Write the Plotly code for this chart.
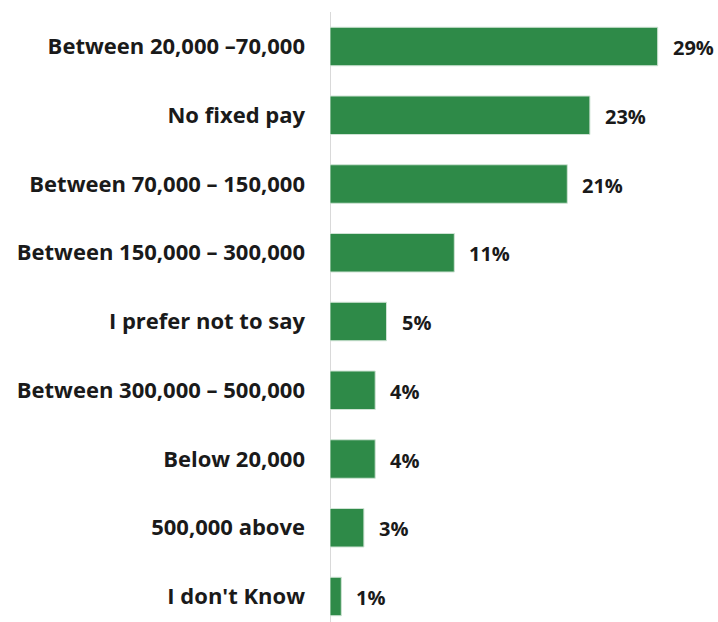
import plotly.graph_objects as go

# Monthly income brackets and share of respondents (%)
categories = [
    "Between 20,000 –70,000",
    "No fixed pay",
    "Between 70,000 – 150,000",
    "Between 150,000 – 300,000",
    "I prefer not to say",
    "Between 300,000 – 500,000",
    "Below 20,000",
    "500,000 above",
    "I don't Know",
]
shares = [29, 23, 21, 11, 5, 4, 4, 3, 1]

BAR_GREEN = "#2e8a48"
TEXT = "#1a1a1a"
FONT = "Open Sans"

fig = go.Figure(
    go.Bar(
        x=shares,
        y=categories,
        orientation="h",
        width=0.56,
        marker=dict(color=BAR_GREEN, line=dict(color="#cfe3d4", width=1)),
        hoverinfo="skip",
    )
)

# Percentage labels just past the end of each bar
for cat, val in zip(categories, shares):
    fig.add_annotation(
        x=val, y=cat, text=f"<b>{val}%</b>", showarrow=False,
        xanchor="left", xshift=13, yshift=-1,
        font=dict(family=FONT, size=20, color=TEXT),
    )

fig.update_layout(
    width=718, height=622,
    margin=dict(l=330, r=0, t=12, b=0),
    paper_bgcolor="white", plot_bgcolor="white",
    showlegend=False,
    font=dict(family=FONT, color=TEXT),
)
fig.update_xaxes(
    range=[0, 388 / 11.3], visible=False,
)
fig.update_yaxes(
    type="category",
    range=[8.371, -0.502],
    showgrid=False, zeroline=False,
    showline=False,
    ticks="", ticklabelstandoff=24,
    tickfont=dict(family=FONT, size=22, color=TEXT, weight="bold"),
)
# Light grey baseline at zero
fig.add_shape(
    type="line", xref="x", yref="paper", x0=0, x1=0, y0=0, y1=1,
    line=dict(color="#d9d9d9", width=2), layer="below",
)

fig.write_html("out.html")
